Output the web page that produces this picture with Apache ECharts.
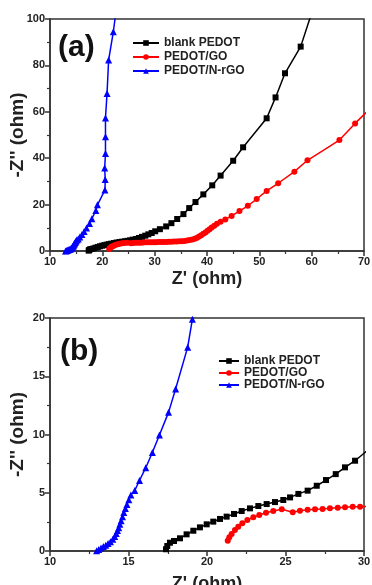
<!DOCTYPE html>
<html>
<head>
<meta charset="utf-8">
<script src="https://cdn.jsdelivr.net/npm/echarts@6/dist/echarts.min.js"></script>
<style>
  html, body { margin: 0; padding: 0; background: #fff; }
  #main { width: 372px; height: 585px; }
</style>
</head>
<body>
<div id="main"></div>
<script>
// Nyquist data [Z', -Z''], same data drawn in both panels (b is a zoom of a)
var blankPedot = [
  [17.39, 0.15], [17.47, 0.43], [17.64, 0.71], [17.9, 0.86], [18.28, 1.09], [18.7, 1.43],
  [19.13, 1.74], [19.55, 2.03], [19.98, 2.29], [20.4, 2.52], [20.83, 2.75], [21.25, 2.95],
  [21.72, 3.18], [22.21, 3.43], [22.74, 3.66], [23.27, 3.86], [23.8, 4.03], [24.33, 4.2],
  [24.86, 4.38], [25.29, 4.6], [25.82, 4.9], [26.41, 5.18], [26.99, 5.6], [27.58, 6.09],
  [28.2, 6.6], [28.79, 7.18], [29.43, 7.75], [30.1, 8.5], [31.0, 9.4], [32.2, 10.6],
  [33.2, 12.0], [34.3, 13.8], [35.5, 15.9], [36.6, 18.5], [37.8, 21.1], [39.3, 24.4],
  [41.0, 28.3], [42.6, 32.5], [45.0, 38.9], [46.9, 44.7], [51.4, 57.2], [53.1, 66.2],
  [54.9, 76.6], [57.9, 88.1], [60.2, 104]
];
var pedotGO = [
  [21.32, 0.89], [21.42, 1.18], [21.57, 1.46], [21.78, 1.8], [21.99, 2.09], [22.25, 2.38],
  [22.57, 2.66], [22.95, 2.89], [23.33, 3.09], [23.76, 3.29], [24.22, 3.43], [24.76, 3.58],
  [25.46, 3.32], [25.92, 3.46], [26.41, 3.55], [26.88, 3.58], [27.36, 3.6], [27.83, 3.66],
  [28.33, 3.72], [28.79, 3.75], [29.28, 3.8], [29.75, 3.8], [30.2, 3.82], [30.7, 3.85],
  [31.2, 3.88], [31.7, 3.9], [32.2, 3.93], [32.7, 3.97], [33.2, 4.0], [33.7, 4.05],
  [34.2, 4.1], [34.7, 4.15], [35.2, 4.25], [35.7, 4.35], [36.2, 4.5], [36.7, 4.7],
  [37.2, 4.95], [37.7, 5.3], [38.1, 5.7], [38.5, 6.2], [38.9, 6.8], [39.3, 7.4],
  [39.7, 8.0], [40.1, 8.7], [40.5, 9.4], [40.9, 10.1], [41.4, 10.9], [41.9, 11.7],
  [42.6, 12.6], [43.5, 13.6], [44.7, 15.1], [46.2, 17.2], [47.8, 19.5], [49.5, 22.4],
  [51.4, 25.9], [53.6, 29.2], [56.7, 34.2], [59.2, 39.1], [65.3, 47.8], [68.3, 55.0],
  [71, 61]
];
var pedotNrGO = [
  [12.97, 0.02], [13.1, 0.12], [13.25, 0.25], [13.4, 0.38], [13.55, 0.5], [13.7, 0.65],
  [13.85, 0.8], [14.0, 1.0], [14.12, 1.25], [14.22, 1.5], [14.3, 1.75], [14.38, 2.0],
  [14.45, 2.3], [14.53, 2.6], [14.62, 2.95], [14.7, 3.3], [14.8, 3.65], [14.9, 4.0],
  [15.02, 4.4], [15.15, 4.8], [15.4, 5.2], [15.7, 6.05], [16.1, 7.15], [16.52, 8.45],
  [16.97, 9.95], [17.55, 11.9], [18.0, 13.9], [18.77, 17.5], [19.07, 19.9], [20.5, 26.3],
  [20.55, 30.8], [20.45, 35.8], [20.6, 42], [20.6, 49.2], [20.6, 57.3], [20.9, 67.9],
  [21.2, 82.3], [22.1, 94.5], [22.6, 103]
];

var seriesNames = ['blank PEDOT', 'PEDOT/GO', 'PEDOT/N-rGO'];
var seriesColors = ['#000000', '#ff0000', '#0000ff'];
var seriesSymbols = ['rect', 'circle', 'triangle'];
var seriesData = [blankPedot, pedotGO, pedotNrGO];

// axis ranges: [xmin, xmax, xstep, ymin, ymax, ystep]
var rangeA = [10, 70, 10, 0, 100, 20];
var rangeB = [10, 30, 5, 0, 20, 5];

var font = 'Liberation Sans, Arial, sans-serif';
var axisCol = '#333';

function makeX(idx, r, gap) {
  return {
    type: 'value', gridIndex: idx, min: r[0], max: r[1], interval: r[2],
    name: "Z' (ohm)", nameLocation: 'middle', nameGap: gap, nameMoveOverlap: false,
    nameTextStyle: { fontFamily: font, fontWeight: 'bold', fontSize: 18, color: '#222' },
    axisLine: { show: true, lineStyle: { color: axisCol, width: 1.5 } },
    axisTick: { show: true, length: 5, lineStyle: { color: axisCol, width: 1.5 } },
    minorTick: { show: true, splitNumber: 2, length: 3, lineStyle: { color: axisCol, width: 1.2 } },
    axisLabel: { fontFamily: font, fontWeight: 'bold', fontSize: 11, color: '#222', margin: 5 },
    splitLine: { show: false }
  };
}
function makeY(idx, r) {
  return {
    type: 'value', gridIndex: idx, min: r[3], max: r[4], interval: r[5],
    name: "-Z'' (ohm)", nameLocation: 'middle', nameGap: 23, nameRotate: 90, nameMoveOverlap: false,
    nameTextStyle: { fontFamily: font, fontWeight: 'bold', fontSize: 19, color: '#222' },
    axisLine: { show: true, lineStyle: { color: axisCol, width: 1.5 } },
    axisTick: { show: true, length: 5, lineStyle: { color: axisCol, width: 1.5 } },
    minorTick: { show: true, splitNumber: 2, length: 3, lineStyle: { color: axisCol, width: 1.2 } },
    axisLabel: { fontFamily: font, fontWeight: 'bold', fontSize: 11, color: '#222', margin: 5 },
    splitLine: { show: false }
  };
}

var series = [];
[0, 1].forEach(function (g) {
  seriesData.forEach(function (d, i) {
    series.push({
      name: seriesNames[i], type: 'line', xAxisIndex: g, yAxisIndex: g,
      data: d, clip: true, symbol: seriesSymbols[i],
      symbolSize: seriesSymbols[i] === 'triangle' ? 7 : 6,
      itemStyle: { color: seriesColors[i] },
      lineStyle: { color: seriesColors[i], width: 1.5 },
      animation: false
    });
  });
});

function makeLegend(left, top, w, gap) {
  return {
    orient: 'vertical', left: left, top: top, itemWidth: w, itemHeight: 7, itemGap: gap,
    data: seriesNames,
    textStyle: { fontFamily: font, fontWeight: 'bold', fontSize: 12, color: '#222', lineHeight: 12 }
  };
}

var option = {
  backgroundColor: '#fff',
  animation: false,
  grid: [
    { left: 50, top: 19, width: 314, height: 232, show: true, borderColor: axisCol, borderWidth: 1.5,
      containLabel: false, outerBoundsMode: 'none' },
    { left: 50, top: 318, width: 314, height: 233, show: true, borderColor: axisCol, borderWidth: 1.5,
      containLabel: false, outerBoundsMode: 'none' }
  ],
  xAxis: [makeX(0, rangeA, 19), makeX(1, rangeB, 24)],
  yAxis: [makeY(0, rangeA), makeY(1, rangeB)],
  legend: [makeLegend(127, 32, 26, 2), makeLegend(213, 350, 20, 0)],
  graphic: [
    { type: 'text', left: 58, top: 33, style: { text: '(a)', font: 'bold 30px Liberation Sans, Arial', fill: '#111' } },
    { type: 'text', left: 60, top: 337, style: { text: '(b)', font: 'bold 30px Liberation Sans, Arial', fill: '#111' } }
  ],
  series: series
};

var myChart = echarts.init(document.getElementById('main'));
myChart.setOption(option);
</script>
</body>
</html>
